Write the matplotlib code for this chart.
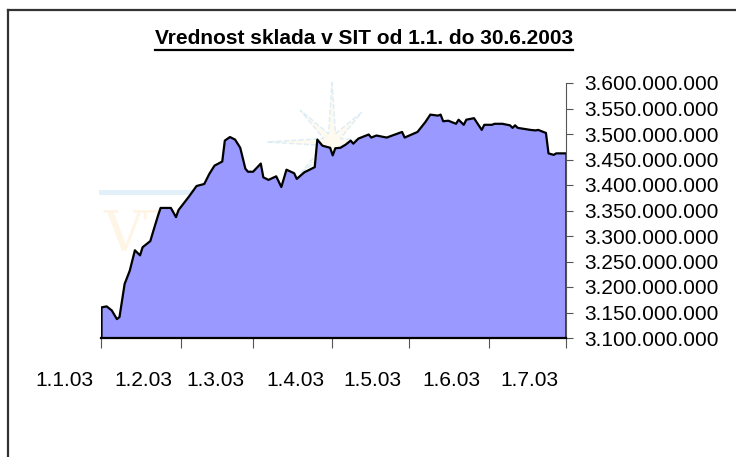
import matplotlib
matplotlib.use('Agg')
import matplotlib.pyplot as plt
import matplotlib.dates as mdates
import matplotlib.transforms as mtransforms
from matplotlib.ticker import FuncFormatter, FixedLocator
from matplotlib.lines import Line2D
from matplotlib.patches import Polygon, Rectangle
import numpy as np
import pandas as pd

plt.rcParams['font.family'] = ['Liberation Sans', 'DejaVu Sans']

title = "Vrednost sklada v SIT od 1.1. do 30.6.2003"

dates = [
    "2003-01-01", "2003-01-03", "2003-01-05", "2003-01-07", "2003-01-08",
    "2003-01-10", "2003-01-12", "2003-01-14", "2003-01-16", "2003-01-17",
    "2003-01-20", "2003-01-21", "2003-01-23", "2003-01-24", "2003-01-28",
    "2003-01-30", "2003-01-31", "2003-02-04", "2003-02-07", "2003-02-10",
    "2003-02-11", "2003-02-12", "2003-02-14", "2003-02-17", "2003-02-18",
    "2003-02-20", "2003-02-22", "2003-02-24", "2003-02-26", "2003-02-27",
    "2003-03-01", "2003-03-04", "2003-03-05", "2003-03-07", "2003-03-10",
    "2003-03-12", "2003-03-14", "2003-03-17", "2003-03-18", "2003-03-21",
    "2003-03-25", "2003-03-26", "2003-03-28", "2003-03-31", "2003-04-01",
    "2003-04-02", "2003-04-04", "2003-04-06", "2003-04-08", "2003-04-09",
    "2003-04-11", "2003-04-15", "2003-04-16", "2003-04-18", "2003-04-22",
    "2003-04-28", "2003-04-29", "2003-05-04", "2003-05-07", "2003-05-09",
    "2003-05-12", "2003-05-13", "2003-05-14", "2003-05-16", "2003-05-19",
    "2003-05-20", "2003-05-22", "2003-05-23", "2003-05-26", "2003-05-29",
    "2003-05-30", "2003-06-02", "2003-06-03", "2003-06-06", "2003-06-09",
    "2003-06-10", "2003-06-11", "2003-06-12", "2003-06-17", "2003-06-19",
    "2003-06-20", "2003-06-23", "2003-06-24", "2003-06-26", "2003-06-27",
    "2003-07-01",
]

values_mio = [
    3161, 3163, 3155, 3138, 3142,
    3207, 3233, 3273, 3263, 3279,
    3291, 3308, 3341, 3356, 3356,
    3338, 3352, 3378, 3399, 3403,
    3413, 3423, 3439, 3447, 3488,
    3495, 3490, 3474, 3433, 3427,
    3427, 3443, 3416, 3411, 3418,
    3397, 3431, 3424, 3413, 3426,
    3436, 3490, 3478, 3474, 3459,
    3473, 3474, 3480, 3488, 3482,
    3492, 3500, 3494, 3498, 3494,
    3505, 3494, 3505, 3524, 3539,
    3537, 3539, 3526, 3527, 3521,
    3529, 3519, 3529, 3532, 3509,
    3519, 3519, 3521, 3521, 3518,
    3513, 3518, 3513, 3509, 3508,
    3509, 3503, 3463, 3460, 3463,
    3463,
]

tick_dates = ["2003-01-01", "2003-02-01", "2003-03-01", "2003-04-01",
              "2003-05-01", "2003-06-01", "2003-07-01"]
tick_labels = ["1.1.03", "1.2.03", "1.3.03", "1.4.03", "1.5.03", "1.6.03", "1.7.03"]
y_ticks = [3100000000, 3150000000, 3200000000, 3250000000, 3300000000, 3350000000,
           3400000000, 3450000000, 3500000000, 3550000000, 3600000000]

W, H = 736, 457
fig = plt.figure(figsize=(W / 100, H / 100), dpi=100)

def fx(px):
    return px / W

def fy(py):
    return 1 - py / H

# outer chart border (only left and top visible)
fig.add_artist(Line2D([fx(8), fx(8)], [fy(10), 0], color='#333333', lw=1.6))
fig.add_artist(Line2D([fx(8), 1], [fy(10), fy(10)], color='#333333', lw=1.6))

ax = fig.add_axes([fx(101), fy(338), fx(566) - fx(101), fy(83) - fy(338)])
ax.set_facecolor('none')
ax.set_zorder(2)

# faint watermark (background logo), behind the chart
fig.add_artist(Rectangle((fx(99), fy(195)), fx(205) - fx(99), fy(190) - fy(195),
                         facecolor='#e2f1f9', edgecolor='none', zorder=-1))
fig.text(fx(103), fy(250), "VT", fontsize=40, family='DejaVu Serif',
         color='#fef5e6', ha='left', va='baseline', zorder=-1)
cx, cy = 332, 142
angles = [90, 45, 0, 315, 270, 225, 180, 135]
lens = [60, 42, 55, 45, 45, 45, 65, 45]
pts = []
for a, L in zip(angles, lens):
    r = np.deg2rad(a)
    pts.append((fx(cx + L * np.cos(r)), fy(cy - L * np.sin(r))))
    r2 = np.deg2rad(a - 22.5)
    pts.append((fx(cx + 9 * np.cos(r2)), fy(cy - 9 * np.sin(r2))))
fig.add_artist(Polygon(pts, closed=True, facecolor='#fefaf0', edgecolor='#dcedf6',
                       lw=1.0, ls='--', zorder=-1))

x = mdates.date2num(pd.to_datetime(dates))
y = np.array(values_mio) * 1e6

ax.fill_between(x, y, y_ticks[0], facecolor='#9999FF', edgecolor='black',
                linewidth=1.6, zorder=2)

ax.set_xlim(mdates.date2num(pd.Timestamp(tick_dates[0])),
            mdates.date2num(pd.Timestamp(tick_dates[-1])))
ax.set_ylim(y_ticks[0], y_ticks[-1])

for s in ['top', 'left']:
    ax.spines[s].set_visible(False)
ax.spines['right'].set_color('#555555')
ax.spines['right'].set_linewidth(0.8)
ax.spines['bottom'].set_color('black')
ax.spines['bottom'].set_linewidth(1.6)

ax.yaxis.tick_right()
ax.yaxis.set_major_locator(FixedLocator(y_ticks))
ax.yaxis.set_major_formatter(FuncFormatter(lambda v, p: f"{int(round(v)):,}".replace(",", ".")))
ax.tick_params(axis='y', direction='out', length=5, width=0.8, color='#555555',
               pad=8, labelsize=15, labelcolor='black')

tick_nums = mdates.date2num(pd.to_datetime(tick_dates))
ax.set_xticks(tick_nums)
ax.set_xticklabels([])
ax.tick_params(axis='x', direction='out', length=7, width=0.8, color='#555555')

off = mtransforms.ScaledTranslation(-37 / 100, -43 / 100, fig.dpi_scale_trans)
for t, lab in zip(tick_nums, tick_labels):
    ax.text(t, 0, lab, transform=ax.get_xaxis_transform() + off,
            ha='center', va='center', fontsize=15, color='black')

ttl = fig.text(fx(364), fy(38), title, ha='center', va='center',
               fontsize=15, fontweight='bold', color='black')
fig.canvas.draw()
bb = ttl.get_window_extent(renderer=fig.canvas.get_renderer())
uy = bb.y0 - 2
fig.add_artist(Line2D([bb.x0 / W, bb.x1 / W], [uy / H, uy / H], color='black', lw=1.6))

fig.savefig('out.png', dpi=100)
